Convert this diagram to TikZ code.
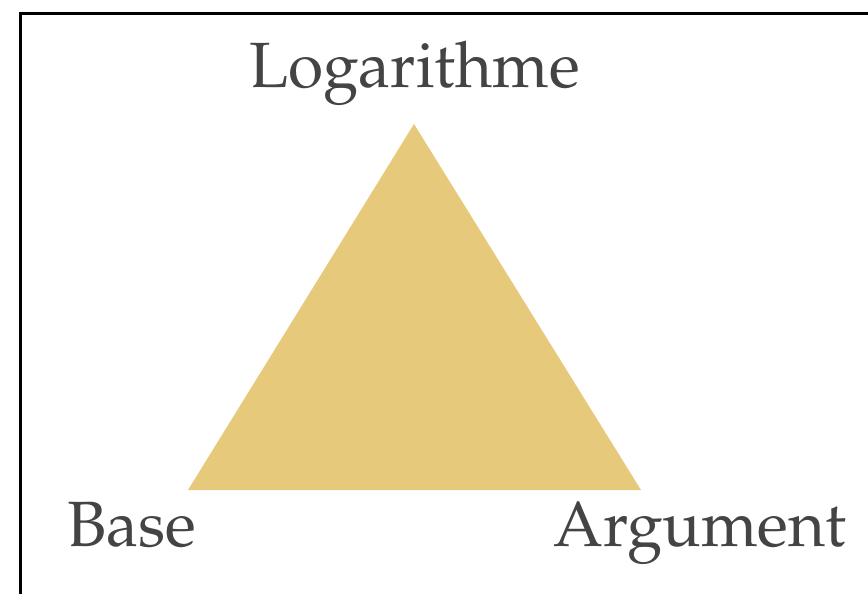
\documentclass[tikz,border=0pt]{standalone}
\usepackage[T1]{fontenc}
\usepackage{mathpazo}
\definecolor{trifill}{HTML}{E6C97A}
\definecolor{labeltext}{HTML}{444444}
\tikzset{
  lbl/.style={inner sep=0pt, anchor=base, text=labeltext, font=\fontsize{48}{58}\selectfont},
  frame/.style={draw=black, line width=2pt},
}
\begin{document}
\begin{tikzpicture}[x=0.75pt, y=-0.75pt]
\useasboundingbox (0,0) rectangle (868,593);
\clip (0,0) rectangle (868,593);
\draw[frame] (20.5,13.5) rectangle (900,620);
\coordinate (top) at (414,124);
\coordinate (bl) at (188,490);
\coordinate (br) at (641,490);
\fill[trifill] (top) -- (bl) -- (br) -- cycle;
\node[lbl] (log) at (414.5,87) {Logarithme};
\node[lbl] (base) at (132,546) {Base};
\node[lbl] (arg) at (700,546) {Argument};
\end{tikzpicture}
\end{document}
